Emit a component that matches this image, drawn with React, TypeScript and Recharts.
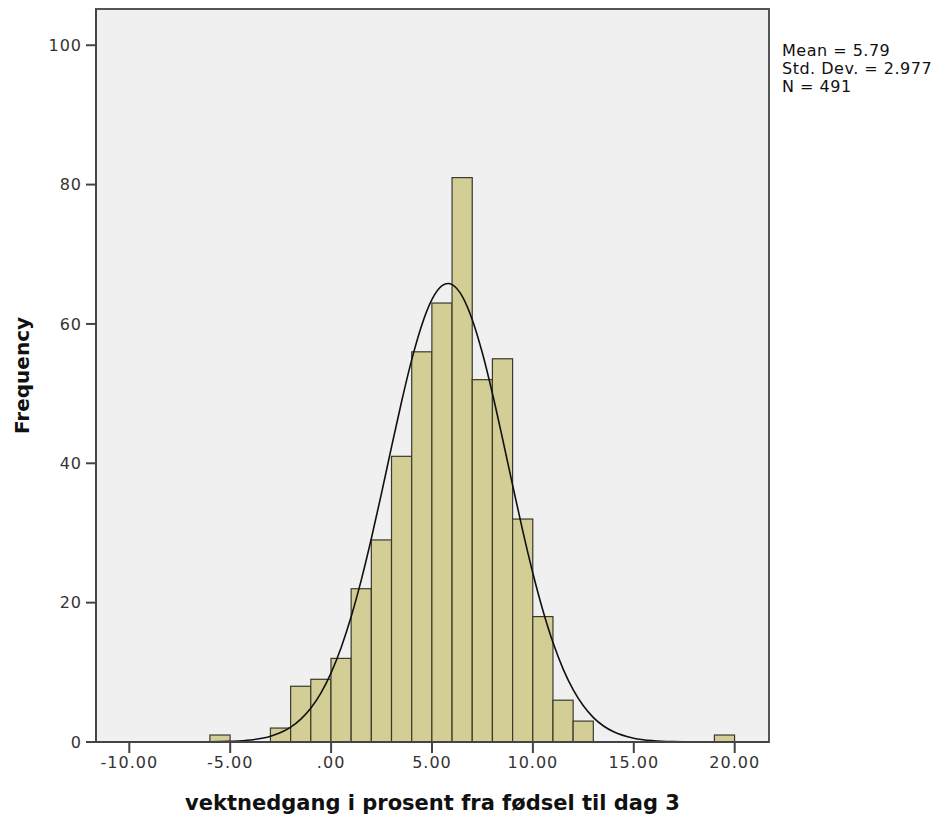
import {
  Bar,
  CartesianGrid,
  ComposedChart,
  Label,
  Line,
  ReferenceArea,
  XAxis,
  YAxis,
} from "recharts";

// histogram bins (lower edge, width 1) and counts
const binStarts = [-6, -3, -2, -1, 0, 1, 2, 3, 4, 5, 6, 7, 8, 9, 10, 11, 12, 19];
const binCounts = [1, 2, 8, 9, 12, 22, 29, 41, 56, 63, 81, 52, 55, 32, 18, 6, 3, 1];

// fitted normal curve
const curveX = [
  -10, -9, -8, -7, -6, -5, -4, -3, -2.5, -2, -1.5, -1, -0.5, 0, 0.5, 1, 1.5, 2,
  2.5, 3, 3.5, 4, 4.5, 5, 5.5, 5.8, 6, 6.5, 7, 7.5, 8, 8.5, 9, 9.5, 10, 10.5,
  11, 11.5, 12, 12.5, 13, 13.5, 14, 15, 16, 17, 18, 19, 20,
];
const curveY = [
  0, 0, 0, 0.01, 0.02, 0.09, 0.29, 0.84, 1.36, 2.14, 3.28, 4.88, 7.06, 9.93,
  13.57, 18.04, 23.3, 29.27, 35.72, 42.42, 48.94, 54.92, 59.9, 63.52, 65.49,
  65.8, 65.64, 63.96, 60.58, 55.79, 49.95, 43.48, 36.8, 30.27, 24.21, 18.83,
  14.23, 10.46, 7.47, 5.19, 3.5, 2.3, 1.47, 0.55, 0.18, 0.05, 0.01, 0, 0,
];

const xTicks = [-10, -5, 0, 5, 10, 15, 20];
const yTicks = [0, 20, 40, 60, 80, 100];
const stats = ["Mean = 5.79", "Std. Dev. = 2.977", "N = 491"];

const X_MIN = -11.65;
const X_MAX = 21.7;
const Y_MAX = 105.2;

const W = 936;
const H = 817;
const margin = { top: 9, right: 167, left: 0, bottom: 0 };
const Y_AXIS_W = 96;
const X_AXIS_H = 75;
const plotW = W - margin.left - margin.right - Y_AXIS_W;
const binPx = plotW / (X_MAX - X_MIN);

const bins = binStarts.map((s, i) => ({ x: s + 0.5, count: binCounts[i] }));
const curve = curveX.map((x, i) => ({ x, y: curveY[i] }));

const fmtX = (v: number) => {
  const s = v.toFixed(2);
  return s.replace(/^(-?)0\./, "$1.");
};

const tickStyle = {
  fill: "#333",
  fontSize: 16,
  fontFamily: "DejaVu Sans",
  letterSpacing: 1,
};

// full-width histogram bar centred on the bin midpoint
const BinBar = (props: any) => {
  const { x, y, width, height } = props;
  if (!height) return null;
  const cx = x + width / 2;
  return (
    <rect
      x={cx - binPx / 2}
      y={y}
      width={binPx}
      height={height}
      fill="#d3ce96"
      stroke="#3a3a2e"
      strokeWidth={1.2}
    />
  );
};

export default function App() {
  const midY = margin.top + (H - margin.top - X_AXIS_H) / 2;
  return (
    <div
      style={{
        position: "absolute",
        left: 0,
        top: 0,
        width: W,
        height: H,
        background: "#fff",
      }}
    >
      <ComposedChart width={W} height={H} data={bins} margin={margin}>
        <CartesianGrid fill="#f0f0f0" horizontal={false} vertical={false} />
        <XAxis
          dataKey="x"
          type="number"
          domain={[X_MIN, X_MAX]}
          ticks={xTicks}
          tickFormatter={fmtX}
          allowDataOverflow
          height={X_AXIS_H}
          tick={tickStyle}
          tickSize={11}
          tickMargin={4}
          axisLine={{ stroke: "#444", strokeWidth: 2 }}
          tickLine={{ stroke: "#444", strokeWidth: 2 }}
        >
          <Label
            content={() => (
              <text
                x={Y_AXIS_W + plotW / 2}
                y={810}
                textAnchor="middle"
                fontFamily="DejaVu Sans"
                fontWeight="bold"
                fontSize={21}
                fill="#111"
              >
                vektnedgang i prosent fra fødsel til dag 3
              </text>
            )}
          />
        </XAxis>
        <YAxis
          type="number"
          domain={[0, Y_MAX]}
          ticks={yTicks}
          allowDataOverflow
          width={Y_AXIS_W}
          tick={tickStyle}
          tickSize={10}
          tickMargin={4}
          axisLine={{ stroke: "#444", strokeWidth: 2 }}
          tickLine={{ stroke: "#444", strokeWidth: 2 }}
        >
          <Label
            content={() => (
              <text
                x={29}
                y={midY}
                textAnchor="middle"
                transform={`rotate(-90 29 ${midY})`}
                fontFamily="DejaVu Sans"
                fontWeight="bold"
                fontSize={20}
                fill="#111"
              >
                Frequency
              </text>
            )}
          />
        </YAxis>
        <Bar
          dataKey="count"
          shape={BinBar}
          isAnimationActive={false}
        />
        <Line
          data={curve}
          dataKey="y"
          type="monotone"
          stroke="#111"
          strokeWidth={1.6}
          dot={false}
          activeDot={false}
          isAnimationActive={false}
        />
        <ReferenceArea
          x1={X_MIN}
          x2={X_MAX}
          y1={0}
          y2={Y_MAX}
          fill="none"
          stroke="#555"
          strokeWidth={2}
          ifOverflow="visible"
        />
      </ComposedChart>
      <div
        style={{
          position: "absolute",
          left: 782,
          top: 42,
          fontFamily: "DejaVu Sans",
          fontSize: 16,
          letterSpacing: 0.5,
          lineHeight: "18px",
          color: "#111",
        }}
      >
        {stats.map((s) => (
          <div key={s}>{s}</div>
        ))}
      </div>
    </div>
  );
}
